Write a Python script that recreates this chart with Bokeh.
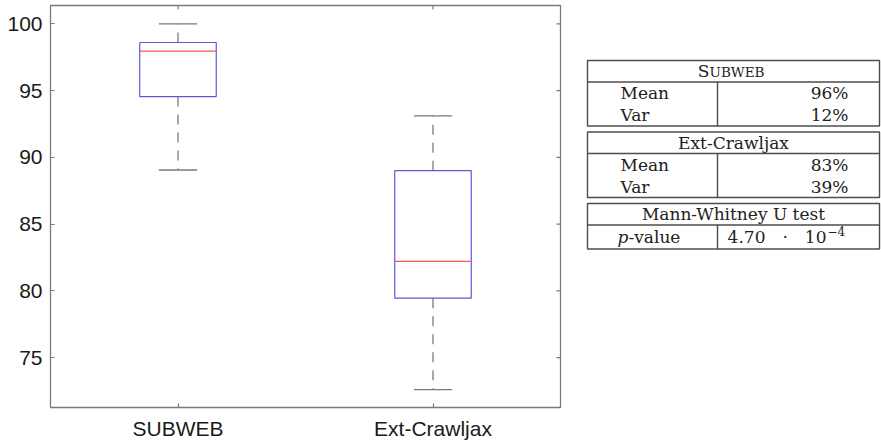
from math import pi
from bokeh.plotting import figure
from bokeh.models import (ColumnDataSource, FactorRange, Range1d, FixedTicker, Label)
from bokeh.transform import dodge
from bokeh.layouts import row
from bokeh.embed import file_html
from bokeh.resources import INLINE

# ---------------- data ----------------
categories = ["SUBWEB", "Ext-Crawljax"]
upper_whisker = [100.0, 93.1]
q3 = [98.6, 89.0]
median = [97.95, 82.2]
q1 = [94.55, 79.45]
lower_whisker = [89.05, 72.6]
y_ticks = [75, 80, 85, 90, 95, 100]

table_titles = ["Subweb", "Ext-Crawljax", "Mann-Whitney U test"]
row_labels = [["Mean", "Var"], ["Mean", "Var"], ["p-value"]]
row_values = [["96%", "12%"], ["83%", "39%"], ["4.70\u2003\u00b7\u200310^\u22124"]]

# ---------------- styles ----------------
FRAME = "#7a7a7a"
SANS = "Liberation Sans"
SERIF = "DejaVu Serif"
B_TOP, B_BOTTOM, B_LEFT, B_RIGHT = 5, 36, 50, 15
H = 443

p = figure(width=575, height=H,
           x_range=FactorRange(factors=categories),
           y_range=Range1d(71.26, 101.37),
           output_backend="svg", toolbar_location=None,
           min_border_left=B_LEFT, min_border_right=B_RIGHT,
           min_border_top=B_TOP, min_border_bottom=B_BOTTOM)
p.xgrid.visible = False
p.ygrid.visible = False
p.outline_line_color = FRAME
p.outline_line_width = 1.3
p.background_fill_color = "white"
p.border_fill_color = "white"
p.yaxis.ticker = FixedTicker(ticks=y_ticks)

for ax in p.axis:
    ax.axis_line_color = None
    ax.major_tick_in = 4
    ax.major_tick_out = 0
    ax.minor_tick_line_color = None
    ax.major_tick_line_color = FRAME
    ax.major_tick_line_width = 1.2
    ax.major_label_text_font = SANS
    ax.major_label_text_font_size = "21px"
    ax.major_label_text_color = "#1a1a1a"
p.yaxis.major_label_standoff = 8
p.xaxis.major_label_standoff = 9

# mirrored inward ticks on the right and top frame edges
rsrc = ColumnDataSource(dict(c=[categories[-1]] * len(y_ticks), y=y_ticks))
p.ray(x=dodge("c", 0.5, range=p.x_range), y="y", source=rsrc, length=4,
      length_units="screen", angle=pi, line_color=FRAME, line_width=1.2)
tsrc = ColumnDataSource(dict(c=categories, y=[p.y_range.end] * len(categories)))
p.ray(x="c", y="y", source=tsrc, length=4, length_units="screen",
      angle=-pi / 2, line_color=FRAME, line_width=1.2)

src = ColumnDataSource(dict(cat=categories, uw=upper_whisker, q3=q3,
                            med=median, q1=q1, lw=lower_whisker))

# whiskers
p.segment(x0="cat", y0="q3", x1="cat", y1="uw", source=src,
          line_color=FRAME, line_width=1.3, line_dash="10 8")
p.segment(x0="cat", y0="q1", x1="cat", y1="lw", source=src,
          line_color=FRAME, line_width=1.3, line_dash="10 8")
# caps
p.segment(x0=dodge("cat", -0.075, range=p.x_range), y0="uw",
          x1=dodge("cat", 0.075, range=p.x_range), y1="uw",
          source=src, line_color=FRAME, line_width=1.3)
p.segment(x0=dodge("cat", -0.075, range=p.x_range), y0="lw",
          x1=dodge("cat", 0.075, range=p.x_range), y1="lw",
          source=src, line_color=FRAME, line_width=1.3)
# boxes
p.vbar(x="cat", width=0.3, top="q3", bottom="q1", source=src,
       fill_color="white", line_color="#5a5ad8", line_width=1.2)
# medians
p.segment(x0=dodge("cat", -0.15, range=p.x_range), y0="med",
          x1=dodge("cat", 0.15, range=p.x_range), y1="med",
          source=src, line_color="#ff5555", line_width=1.3)

# ---------------- table (pixel coordinates) ----------------
t = figure(width=306, height=H,
           x_range=Range1d(575, 881), y_range=Range1d(H - B_BOTTOM, B_TOP),
           output_backend="svg", toolbar_location=None,
           x_axis_location=None, y_axis_location=None,
           min_border_left=0, min_border_right=0,
           min_border_top=B_TOP, min_border_bottom=B_BOTTOM)
t.xgrid.visible = False
t.ygrid.visible = False
t.outline_line_color = None
t.background_fill_color = "white"
t.border_fill_color = "white"

TL, TR, TM = 587, 879, 717
header_h, row_h, gap = 21.5, 22, 6
label_x, value_x = 620, 848
center_x = (TL + TR) / 2
LINE = "#4d4d4d"
TXT = "#222222"

rect_l, rect_r, rect_t, rect_b = [], [], [], []
hx0, hx1, hy = [], [], []
vx, vy0, vy1 = [], [], []


def add_text(x, y, s, align, size="17px", style="normal"):
    t.add_layout(Label(x=x, y=y, text=s, text_align=align, text_baseline="middle",
                       text_font=SERIF, text_font_size=size, text_font_style=style,
                       text_color=TXT))


top = 60.0
for title, labels, vals in zip(table_titles, row_labels, row_values):
    rh = row_h if len(labels) > 1 else row_h + 2
    bottom = top + header_h + rh * len(labels)
    rect_l.append(TL); rect_r.append(TR); rect_t.append(top); rect_b.append(bottom)
    hx0.append(TL); hx1.append(TR); hy.append(top + header_h)
    vx.append(TM); vy0.append(top + header_h); vy1.append(bottom)
    cy = top + 10.75
    if title == "Subweb":
        jx = center_x - 24
        add_text(jx, cy, title[0], "right")
        add_text(jx, cy + 1.2, title[1:].upper(), "left", "13.5px")
    else:
        add_text(center_x, cy, title, "center")
    for i, (lab, val) in enumerate(zip(labels, vals)):
        rc = top + header_h + rh * i + rh / 2
        if lab.startswith("p-"):
            add_text(label_x + 8, rc, "p", "right", style="italic")
            add_text(label_x + 8, rc, lab[1:], "left")
        else:
            add_text(label_x, rc, lab, "left")
        if "^" in val:
            mant, exp = val.split("^")
            add_text(value_x - 22, rc, mant, "right")
            add_text(value_x - 21, rc - 6, exp, "left", "12px")
        else:
            add_text(value_x, rc, val, "right")
    top = bottom + gap

t.quad(left=rect_l, right=rect_r, top=rect_t, bottom=rect_b,
       fill_color=None, line_color=LINE, line_width=1.4)
t.segment(x0=hx0, y0=hy, x1=hx1, y1=hy, line_color=LINE, line_width=1.4)
t.segment(x0=vx, y0=vy0, x1=vx, y1=vy1, line_color=LINE, line_width=1.4)

layout = row(p, t)
open("out.html", "w").write(file_html(layout, INLINE))
